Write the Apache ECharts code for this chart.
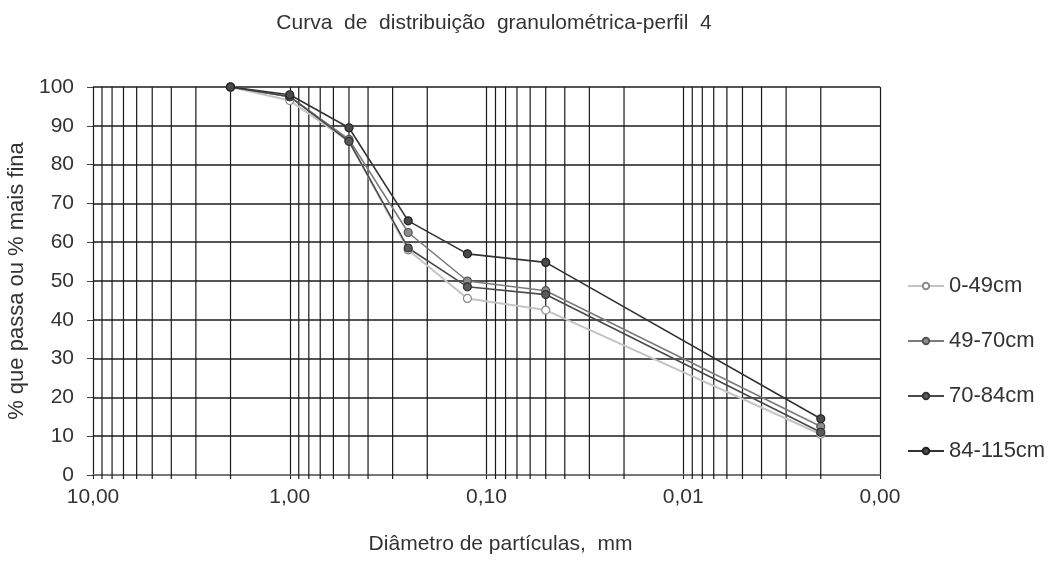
<!DOCTYPE html>
<html>
<head>
<meta charset="utf-8">
<title>Curva granulométrica</title>
<script src="https://cdn.jsdelivr.net/npm/echarts@6/dist/echarts.min.js"></script>
<style>
  html, body { margin: 0; padding: 0; background: #fff; }
  #chart { width: 1056px; height: 561px; }
</style>
</head>
<body>
<div id="chart"></div>
<script>
// diâmetros das peneiras (mm)
const diametros = [2, 1, 0.5, 0.25, 0.125, 0.05, 0.002];

// % que passa por camada
const camada0_49 = [100, 96.5, 86, 58, 45.5, 42.5, 10.5];
const camada49_70 = [100, 97.5, 86.5, 62.5, 50, 47.5, 12.5];
const camada70_84 = [100, 97.5, 86, 58.5, 48.5, 46.5, 11];
const camada84_115 = [100, 98, 89.5, 65.5, 57, 54.8, 14.5];

// linhas secundárias da escala log (2..9 de cada década)
const linhasMenores = [
  9, 8, 7, 6, 5, 4, 3, 2,
  0.9, 0.8, 0.7, 0.6, 0.5, 0.4, 0.3, 0.2,
  0.09, 0.08, 0.07, 0.06, 0.05, 0.04, 0.03, 0.02,
  0.009, 0.008, 0.007, 0.006, 0.005, 0.004, 0.003, 0.002
];

const pares = (vals) => diametros.map((d, i) => [d, vals[i]]);

// cada linha vertical: de um pouco abaixo de 0 até 100, separadas por '-'
const grade = [];
linhasMenores.forEach((v) => {
  grade.push([v, -1], [v, 100], [v, '-']);
});

const chart = echarts.init(document.getElementById('chart'));

const fonte = 'Liberation Sans';

chart.setOption({
  animation: false,
  backgroundColor: '#fff',
  title: {
    text: 'Curva  de  distribuição  granulométrica-perfil  4',
    left: 489,
    textAlign: 'center',
    top: 8,
    textStyle: { fontFamily: fonte, fontSize: 21, fontWeight: 'normal', color: '#333' }
  },
  legend: {
    orient: 'vertical',
    left: 902,
    top: 270,
    itemGap: 33,
    itemWidth: 36,
    itemHeight: 8,
    textStyle: { fontFamily: fonte, fontSize: 22, color: '#333' },
    data: ['0-49cm', '49-70cm', '70-84cm', '84-115cm']
  },
  grid: { left: 93, right: 176, top: 87, bottom: 86, outerBoundsMode: 'none' },
  xAxis: {
    type: 'log',
    logBase: 10,
    min: 0.001,
    max: 10,
    inverse: true,
    name: 'Diâmetro de partículas,  mm',
    nameLocation: 'middle',
    nameGap: 59,
    nameTextStyle: { fontFamily: fonte, fontSize: 21, color: '#333', padding: [0, 0, 0, 28] },
    axisLine: { show: true, lineStyle: { color: '#777', width: 2 } },
    axisTick: { show: true, length: 4, lineStyle: { color: '#222' } },
    axisLabel: {
      fontFamily: fonte, fontSize: 21, color: '#333', margin: 12,
      formatter: (v) => v.toFixed(2).replace('.', ',')
    },
    splitLine: { show: true, lineStyle: { color: '#1a1a1a', width: 1.2 } }
  },
  yAxis: {
    type: 'value',
    min: 0,
    max: 100,
    interval: 10,
    name: '% que passa ou % mais fina',
    nameLocation: 'middle',
    nameGap: 53,
    nameTextStyle: { fontFamily: fonte, fontSize: 22, color: '#333' },
    axisLine: { show: false },
    axisTick: { show: true, length: 6, lineStyle: { color: '#444' } },
    axisLabel: { fontFamily: fonte, fontSize: 21, color: '#333', margin: 19 },
    splitLine: { show: true, lineStyle: { color: '#555', width: 1.8 } }
  },
  series: [
    {
      name: 'grade',
      type: 'line',
      data: grade,
      z: 1,
      clip: false,
      silent: true,
      showSymbol: false,
      symbol: 'none',
      connectNulls: false,
      lineStyle: { color: '#1a1a1a', width: 1.2 }
    },
    {
      name: '0-49cm',
      type: 'line',
      data: pares(camada0_49),
      symbol: 'circle',
      symbolSize: 8,
      lineStyle: { color: '#c4c4c4', width: 2 },
      itemStyle: { color: '#ffffff', borderColor: '#8a8a8a', borderWidth: 1.2 }
    },
    {
      name: '49-70cm',
      type: 'line',
      data: pares(camada49_70),
      symbol: 'circle',
      symbolSize: 8,
      lineStyle: { color: '#7a7a7a', width: 1.6 },
      itemStyle: { color: '#8c8c8c', borderColor: '#555', borderWidth: 1.2 }
    },
    {
      name: '70-84cm',
      type: 'line',
      data: pares(camada70_84),
      symbol: 'circle',
      symbolSize: 8,
      lineStyle: { color: '#4a4a4a', width: 1.6 },
      itemStyle: { color: '#5a5a5a', borderColor: '#333', borderWidth: 1.2 }
    },
    {
      name: '84-115cm',
      type: 'line',
      data: pares(camada84_115),
      symbol: 'circle',
      symbolSize: 8,
      lineStyle: { color: '#333', width: 1.6 },
      itemStyle: { color: '#4a4a4a', borderColor: '#222', borderWidth: 1.2 }
    }
  ]
});
</script>
</body>
</html>
